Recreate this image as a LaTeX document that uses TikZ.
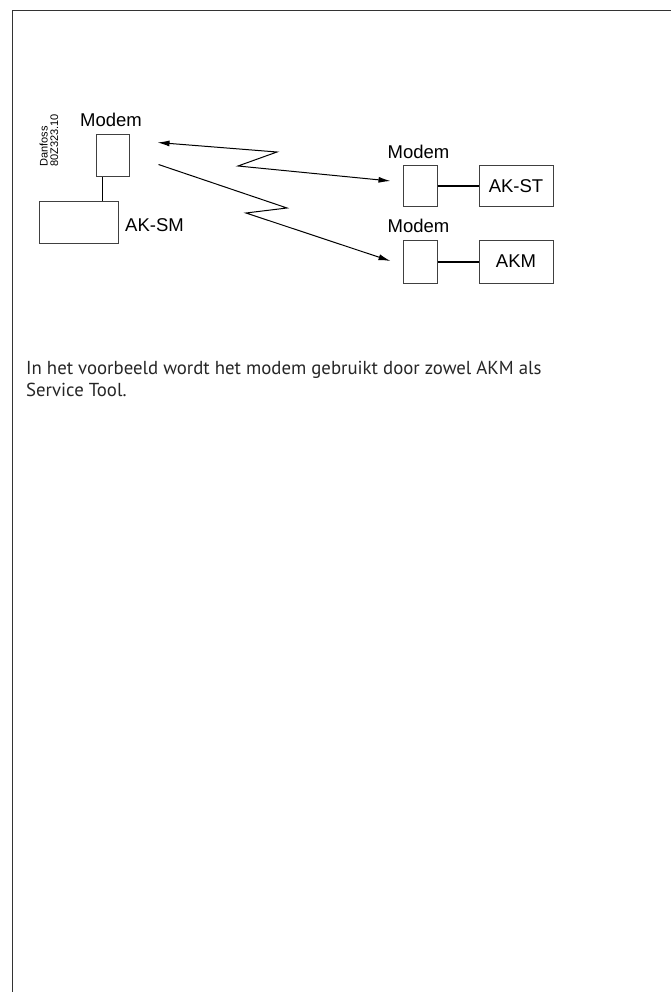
\documentclass[tikz,border=0pt]{standalone}
\usepackage{fontspec}
\setmainfont{PT Sans}
\newfontfamily\helv{Liberation Sans}
\usetikzlibrary{arrows.meta}
\tikzset{
  box/.style={draw=black!75, line width=1pt, inner sep=0pt, font=\helv\fontsize{18.5}{20}\selectfont},
  lbl/.style={inner sep=0pt, font=\helv\fontsize{18.5}{20}\selectfont},
  wire/.style={line width=1pt, black},
  thickwire/.style={line width=2pt, black},
  radio/.style={line width=1pt, black, -{Latex[length=12pt,width=6pt]}},
  radiob/.style={line width=1pt, black, {Latex[length=12pt,width=6pt]}-{Latex[length=12pt,width=6pt]}},
  frame/.style={line width=1.3pt, black!80}
}
\begin{document}
\begin{tikzpicture}[x=1pt,y=-1pt]
\useasboundingbox (0,0) rectangle (671,992);
\draw[frame] (671,10.5) -- (12.5,10.5) -- (12.5,992);

% left side
\node[box, minimum width=33pt, minimum height=42pt] (m0) at (112.5,156) {};
\node[lbl, anchor=base] (m0l) at (111,127) {Modem};
\node[box, minimum width=79pt, minimum height=41.5pt] (sm) at (79,222.75) {};
\node[lbl, anchor=base west] (sml) at (125,231.5) {AK-SM};
\draw[wire] (m0.south -| 102,0) -- (sm.north -| 102,0);
\node[inner sep=0pt, rotate=90, anchor=north west, align=left,
      font=\helv\fontsize{11}{10.5}\selectfont] (df) at (39.5,167) {Danfoss\\80Z323.10};

% right side
\node[box, minimum width=34pt, minimum height=41pt] (m1) at (420,186.5) {};
\node[lbl, anchor=base] (m1l) at (418.5,158.3) {Modem};
\node[box, minimum width=74pt, minimum height=41pt] (st) at (516,186.5) {AK-ST};
\draw[thickwire] (m1.east) -- (st.west);

\node[box, minimum width=34pt, minimum height=43pt] (m2) at (420,261.5) {};
\node[lbl, anchor=base] (m2l) at (418.5,232.7) {Modem};
\node[box, minimum width=74pt, minimum height=43pt] (akm) at (516,261.5) {AKM};
\draw[thickwire] (m2.east) -- (akm.west);

% radio links
\coordinate (z1a) at (277,152);
\coordinate (z1b) at (238,166);
\draw[radiob] ([shift={(28,8)}]m0.north east) -- (z1a) -- (z1b) -- ([shift={(-12,-5.5)}]m1.west);
\coordinate (z2a) at (287,208);
\coordinate (z2b) at (246,213);
\draw[radio] ([shift={(29,30)}]m0.north east) -- (z2a) -- (z2b) -- ([shift={(-12,-0.5)}]m2.west);

% caption
\node[inner sep=0pt, anchor=base west, align=left, font=\fontsize{18.8}{22}\selectfont, text=black!85] (cap) at (26,396)
  {In het voorbeeld wordt het modem gebruikt door zowel AKM als\\Service Tool.};
\end{tikzpicture}
\end{document}
